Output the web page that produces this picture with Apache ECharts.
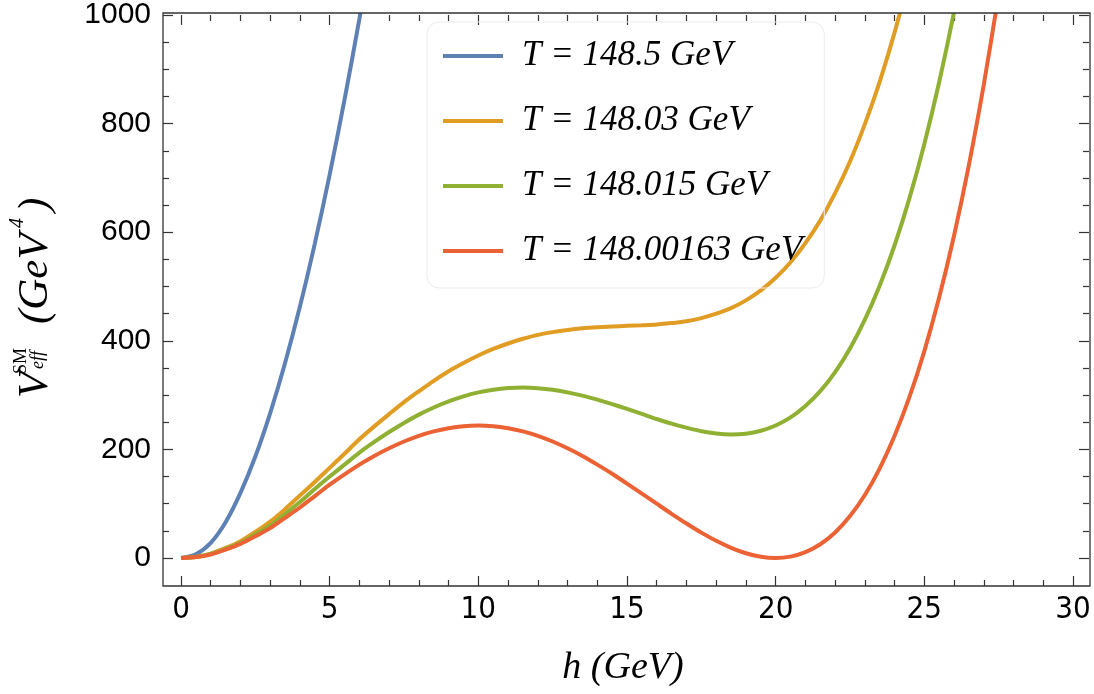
<!DOCTYPE html>
<html>
<head>
<meta charset="utf-8">
<script src="https://cdn.jsdelivr.net/npm/echarts@6/dist/echarts.min.js"></script>
<style>
html,body{margin:0;padding:0;background:#fff;}
#chart{width:1094px;height:694px;}
</style>
</head>
<body>
<div id="chart"></div>
<script>
// ---- data ----
const seriesNames = ['T = 148.5 GeV', 'T = 148.03 GeV', 'T = 148.015 GeV', 'T = 148.00163 GeV'];
const seriesColors = ['#5E81B5', '#E19C24', '#8FB032', '#EB6235'];

const hBlue = [0, 0.5, 1, 1.5, 2, 2.5, 3, 3.5, 4, 4.5, 5, 5.5, 6, 6.2];
const vBlue = [0, 7, 28, 66, 120, 187, 267, 359, 463, 579, 706, 844, 993, 1057];

const hOrange = [0, 0.5, 1, 1.5, 2, 2.5, 3, 3.5, 4, 4.5, 5, 5.5, 6, 6.5, 7, 7.5, 8, 8.5, 9, 9.5, 10, 10.5, 11, 11.5, 12, 12.5,
                 13, 13.5, 14, 14.5, 15, 15.5, 16, 16.5, 17, 17.5, 18, 18.5, 19, 19.5, 20, 20.5, 21, 21.5, 22, 22.5, 23, 23.5, 24, 24.5];
const vOrange = [0, 2, 8, 18.5, 31, 48, 67, 90, 115, 140, 166, 192, 218.6, 242.4, 265, 287, 307, 326.3, 344, 359.2, 373, 385, 395, 403.7, 411, 416,
                 420, 423, 425, 426.4, 427.5, 428.6, 430, 432.6, 436, 441.8, 450, 460.3, 474.5, 492.8, 516, 544.7, 580, 621.7, 672, 730.3, 799, 877.5, 968, 1071];

const hGreen = [0, 0.5, 1, 1.5, 2, 2.5, 3, 3.5, 4, 4.5, 5, 5.5, 6, 6.5, 7, 7.5, 8, 8.5, 9, 9.5, 10, 10.5, 11, 11.5, 12, 12.5,
                13, 13.5, 14, 14.5, 15, 15.5, 16, 16.5, 17, 17.5, 18, 18.5, 19, 19.5, 20, 20.5, 21, 21.5, 22, 22.5, 23, 23.5, 24, 24.5,
                25, 25.5, 26, 26.5];
const vGreen = [0, 1.9, 7.5, 17, 28, 43.5, 60, 81, 103, 127, 150, 172, 194, 213.7, 232, 248.8, 264, 277.2, 288.5, 297.8, 305, 310, 313, 313.8, 312.7, 309.8,
                305, 299.1, 291.7, 283.4, 274.5, 265.3, 256, 247.4, 240, 233.5, 229.3, 227.6, 229, 234.3, 244, 258.9, 280, 307.3, 342.5, 386, 439, 501.9, 576, 662.7,
                762.5, 876.6, 1006, 1152];

const hRed = [0, 0.5, 1, 1.5, 2, 2.5, 3, 3.5, 4, 4.5, 5, 5.5, 6, 6.5, 7, 7.5, 8, 8.5, 9, 9.5, 10, 10.5, 11, 11.5, 12, 12.5,
              13, 13.5, 14, 14.5, 15, 15.5, 16, 16.5, 17, 17.5, 18, 18.5, 19, 19.5, 20, 20.5, 21, 21.5, 22, 22.5, 23, 23.5, 24, 24.5,
              25, 25.5, 26, 26.5, 27, 27.5];
const vRed = [0, 1.7, 6.5, 15.5, 26, 40, 55, 74, 93, 114, 135, 154, 172, 187.9, 202, 214.5, 225, 233.1, 239, 242.8, 244, 242.8, 239, 233.1, 225, 214.5,
              202, 187.9, 172, 155.2, 137, 118.7, 100, 81.4, 63.5, 46.7, 31.6, 18.8, 8.8, 2.3, 0, 2.6, 10.8, 25.4, 47, 77.2, 116, 165.1, 225, 296.6,
              381, 480, 594, 724, 872, 1038];

const xTicks = {min: 0, max: 30, interval: 5};
const yTicks = {min: 0, max: 1000, interval: 200};

// ---- build ----
const pairs = (hs, vs) => hs.map((h, i) => [h, vs[i]]);
const allData = [pairs(hBlue, vBlue), pairs(hOrange, vOrange), pairs(hGreen, vGreen), pairs(hRed, vRed)];

const frameColor = '#333';
const tickCommon = {show: true, inside: true, length: 10, lineStyle: {color: frameColor, width: 1.2}};
const minorCommon = {show: true, length: 6, lineStyle: {color: frameColor, width: 1.2}};
const hiddenLine = {show: false, onZero: false};
const serif = '"Liberation Serif", "Times New Roman", serif';

const chart = echarts.init(document.getElementById('chart'), null, {renderer: 'canvas'});
chart.setOption({
  animation: false,
  backgroundColor: '#fff',
  grid: {left: 181, right: 21, top: 13, bottom: 136, containLabel: false},
  xAxis: [
    {type: 'value', position: 'bottom', offset: 28, min: xTicks.min, max: xTicks.max, interval: xTicks.interval,
     axisLine: hiddenLine, axisTick: tickCommon, minorTick: Object.assign({splitNumber: 5}, minorCommon),
     splitLine: {show: false}, minorSplitLine: {show: false},
     axisLabel: {margin: 8, formatter: v => String(v),
                 fontFamily: '"Liberation Sans Narrow", "DejaVu Sans Condensed", "Liberation Sans"', fontSize: 31, color: '#000'}},
    {type: 'value', position: 'top', offset: 0, min: xTicks.min, max: xTicks.max, interval: xTicks.interval,
     axisLine: hiddenLine, axisTick: tickCommon, minorTick: Object.assign({splitNumber: 5}, minorCommon),
     splitLine: {show: false}, axisLabel: {show: false}}
  ],
  yAxis: [
    {type: 'value', position: 'left', offset: 18, min: yTicks.min, max: yTicks.max, interval: yTicks.interval,
     axisLine: hiddenLine, axisTick: tickCommon, minorTick: Object.assign({splitNumber: 4}, minorCommon),
     splitLine: {show: false}, minorSplitLine: {show: false},
     axisLabel: {margin: 12, formatter: v => String(v), fontFamily: '"Liberation Sans", Arial', fontSize: 30, color: '#000'}},
    {type: 'value', position: 'right', offset: 16, min: yTicks.min, max: yTicks.max, interval: yTicks.interval,
     axisLine: hiddenLine, axisTick: tickCommon, minorTick: Object.assign({splitNumber: 4}, minorCommon),
     splitLine: {show: false}, axisLabel: {show: false}}
  ],
  legend: {
    orient: 'vertical', left: 427, top: 22,
    padding: [14, 22, 17, 16],
    itemGap: 25, itemWidth: 60, itemHeight: 4, icon: 'rect',
    backgroundColor: 'rgba(255,255,255,0)', borderColor: '#ececec', borderWidth: 1, borderRadius: 12,
    textStyle: {fontFamily: serif, fontStyle: 'italic', fontSize: 35,
                color: '#000', lineHeight: 40, padding: [0, 0, 0, 14]},
    data: seriesNames
  },
  series: allData.map((d, i) => ({
    name: seriesNames[i], type: 'line', data: d, smooth: 0.3, showSymbol: false, symbol: 'none',
    xAxisIndex: 0, yAxisIndex: 0,
    lineStyle: {color: seriesColors[i], width: 4}, itemStyle: {color: seriesColors[i]},
    emphasis: {disabled: true}, z: 3
  })),
  graphic: [
    {type: 'rect', shape: {x: 163, y: 13, width: 927, height: 573}, silent: true, z: 10,
     style: {fill: 'none', stroke: frameColor, lineWidth: 1.3}},
    {type: 'text', x: 623, y: 668, silent: true,
     style: {text: 'h (GeV)', fontFamily: serif, fontStyle: 'italic', fontSize: 38, fill: '#000',
             align: 'center', verticalAlign: 'middle'}},
    {type: 'group', x: 51, y: 398, rotation: Math.PI / 2, silent: true,
     children: [
       {type: 'text', x: 0, y: -15, style: {text: 'V', fontFamily: serif, fontStyle: 'italic', fontSize: 43, fill: '#000', align: 'left', verticalAlign: 'middle'}},
       {type: 'text', x: 24, y: -30, style: {text: 'SM', fontFamily: serif, fontSize: 18, fill: '#000', align: 'left', verticalAlign: 'middle'}},
       {type: 'text', x: 29, y: -12.5, style: {text: 'eff', fontFamily: serif, fontStyle: 'italic', fontSize: 18, fill: '#000', align: 'left', verticalAlign: 'middle'}},
       {type: 'text', x: 74, y: -15, style: {text: '(GeV', fontFamily: serif, fontStyle: 'italic', fontSize: 43, fill: '#000', align: 'left', verticalAlign: 'middle'}},
       {type: 'text', x: 170, y: -33, style: {text: '4', fontFamily: serif, fontStyle: 'italic', fontSize: 20, fill: '#000', align: 'left', verticalAlign: 'middle'}},
       {type: 'text', x: 186, y: -15, style: {text: ')', fontFamily: serif, fontStyle: 'italic', fontSize: 43, fill: '#000', align: 'left', verticalAlign: 'middle'}}
     ]}
  ]
});
</script>
</body>
</html>
